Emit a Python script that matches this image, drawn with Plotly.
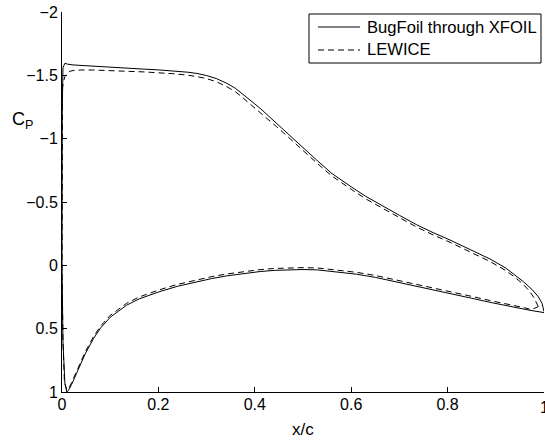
import plotly.graph_objects as go

# BugFoil through XFOIL: closed path, trailing edge (upper) -> leading edge -> trailing edge (lower)
xfoil_x = [1.0, 0.996, 0.988, 0.975, 0.957, 0.94, 0.92, 0.888, 0.85, 0.805, 0.77, 0.736,
           0.70, 0.667, 0.63, 0.60, 0.56, 0.528, 0.49, 0.46, 0.445, 0.43, 0.411, 0.39,
           0.376, 0.36, 0.342, 0.32, 0.30, 0.28, 0.26, 0.23, 0.2, 0.17, 0.134, 0.1,
           0.06, 0.04, 0.023, 0.012, 0.006, 0.002, 0.0005, 0.0, 0.002, 0.006, 0.01, 0.013,
           0.02, 0.03, 0.04, 0.048, 0.065, 0.08, 0.10, 0.12, 0.134, 0.16, 0.203, 0.24,
           0.272, 0.31, 0.342, 0.38, 0.411, 0.44, 0.473, 0.50, 0.53, 0.57, 0.611, 0.65,
           0.70, 0.75, 0.80, 0.85, 0.888, 0.93, 0.971, 1.0]
xfoil_cp = [0.365, 0.30, 0.247, 0.19, 0.128, 0.075, 0.02, -0.05, -0.12, -0.20, -0.258, -0.32,
            -0.395, -0.463, -0.545, -0.62, -0.725, -0.832, -0.965, -1.065, -1.115, -1.17, -1.24, -1.305,
            -1.35, -1.397, -1.437, -1.475, -1.498, -1.515, -1.525, -1.535, -1.543, -1.549, -1.556, -1.563,
            -1.572, -1.577, -1.582, -1.588, -1.595, -1.56, -1.2, 0.0, 0.6, 0.93, 1.0, 0.99,
            0.94, 0.855, 0.77, 0.70, 0.58, 0.495, 0.41, 0.35, 0.315, 0.265, 0.207, 0.165,
            0.135, 0.105, 0.083, 0.062, 0.049, 0.04, 0.034, 0.033, 0.036, 0.05, 0.07, 0.095,
            0.135, 0.175, 0.215, 0.26, 0.292, 0.325, 0.355, 0.373]

# LEWICE
lewice_x = [0.988, 0.98, 0.97, 0.957, 0.94, 0.92, 0.888, 0.85, 0.805, 0.77, 0.736, 0.70,
            0.667, 0.63, 0.60, 0.56, 0.528, 0.49, 0.46, 0.445, 0.43, 0.411, 0.39, 0.376,
            0.36, 0.342, 0.32, 0.30, 0.28, 0.26, 0.23, 0.2, 0.17, 0.134, 0.1, 0.065,
            0.04, 0.023, 0.015, 0.01, 0.006, 0.003, 0.001, 0.0, 0.002, 0.005, 0.01, 0.015,
            0.02, 0.03, 0.04, 0.048, 0.065, 0.08, 0.10, 0.12, 0.134, 0.16, 0.203, 0.24,
            0.272, 0.31, 0.342, 0.38, 0.411, 0.44, 0.473, 0.50, 0.53, 0.57, 0.611, 0.65,
            0.70, 0.75, 0.80, 0.85, 0.888, 0.93, 0.96, 0.974, 0.988]
lewice_cp = [0.326, 0.26, 0.205, 0.15, 0.095, 0.04, -0.03, -0.102, -0.182, -0.24, -0.302, -0.377,
             -0.445, -0.525, -0.60, -0.705, -0.81, -0.945, -1.045, -1.095, -1.145, -1.205, -1.275, -1.32,
             -1.37, -1.41, -1.45, -1.474, -1.49, -1.502, -1.513, -1.521, -1.527, -1.532, -1.538, -1.542,
             -1.542, -1.538, -1.53, -1.515, -1.49, -1.45, -1.40, 0.0, 0.6, 0.92, 0.985, 0.965,
             0.925, 0.84, 0.755, 0.685, 0.565, 0.48, 0.395, 0.335, 0.30, 0.25, 0.192, 0.15,
             0.12, 0.09, 0.068, 0.047, 0.034, 0.025, 0.019, 0.018, 0.021, 0.035, 0.055, 0.08,
             0.12, 0.16, 0.20, 0.245, 0.278, 0.31, 0.335, 0.35, 0.326]

series_names = ["BugFoil through XFOIL", "LEWICE"]
x_ticks = [0, 0.2, 0.4, 0.6, 0.8, 1]
x_tick_labels = ["0", "0.2", "0.4", "0.6", "0.8", "1"]
y_ticks = [-2, -1.5, -1, -0.5, 0, 0.5, 1]

font_family = "Liberation Sans, Arial, Helvetica, sans-serif"
dash_style = "6px,4px"

fig = go.Figure()
fig.add_trace(go.Scatter(x=xfoil_x, y=xfoil_cp, mode="lines", name=series_names[0],
                         line=dict(color="black", width=1)))
fig.add_trace(go.Scatter(x=lewice_x, y=lewice_cp, mode="lines", name=series_names[1],
                         line=dict(color="black", width=1, dash=dash_style)))

# pixel -> paper helpers (plot area: x 62..544, y 12..392)
def px(v):
    return (v - 62) / 482.0

def py(v):
    return 1 - (v - 12) / 380.0

shapes = [
    dict(type="rect", xref="paper", yref="paper", x0=px(309), x1=px(541), y0=py(63), y1=py(14),
         line=dict(color="black", width=1), fillcolor="white", layer="above"),
    dict(type="line", xref="paper", yref="paper", x0=px(318), x1=px(360), y0=py(27), y1=py(27),
         line=dict(color="black", width=1), layer="above"),
    dict(type="line", xref="paper", yref="paper", x0=px(318), x1=px(360), y0=py(50), y1=py(50),
         line=dict(color="black", width=1, dash=dash_style), layer="above"),
]

annotations = [
    dict(text=series_names[0], xref="paper", yref="paper", x=px(365), y=py(27), xanchor="left",
         yanchor="middle", showarrow=False, font=dict(size=16.6)),
    dict(text=series_names[1], xref="paper", yref="paper", x=px(365), y=py(50), xanchor="left",
         yanchor="middle", showarrow=False, font=dict(size=16.6)),
    dict(text="x/c", xref="paper", yref="paper", x=0.5, y=py(429), xanchor="center",
         yanchor="middle", showarrow=False, font=dict(size=17)),
    dict(text="C<sub>P</sub>", xref="paper", yref="paper", x=px(22), y=py(120),
         xanchor="center", yanchor="middle", showarrow=False, font=dict(size=18)),
    dict(text=x_tick_labels[-1], xref="x", yref="paper", x=x_ticks[-1], y=py(407),
         xanchor="center", yanchor="middle", showarrow=False, font=dict(size=16)),
]

fig.update_layout(
    width=545, height=440,
    margin=dict(l=62, r=1, t=12, b=48),
    paper_bgcolor="white", plot_bgcolor="white",
    font=dict(family=font_family, size=16, color="black"),
    showlegend=False,
    xaxis=dict(range=[0, 1], tickvals=x_ticks, ticktext=x_tick_labels[:-1] + [""],
               ticks="inside", ticklen=5, tickcolor="black",
               showline=True, linecolor="black", linewidth=1, showgrid=False, zeroline=False,
               automargin=False, tickfont=dict(size=16), ticklabelstandoff=-2),
    yaxis=dict(range=[1, -2], tickvals=y_ticks, ticks="inside", ticklen=5, tickcolor="black",
               showline=True, linecolor="black", linewidth=1, showgrid=False, zeroline=False,
               automargin=False, tickfont=dict(size=16)),
    shapes=shapes,
    annotations=annotations,
)

fig.write_html("out.html")
